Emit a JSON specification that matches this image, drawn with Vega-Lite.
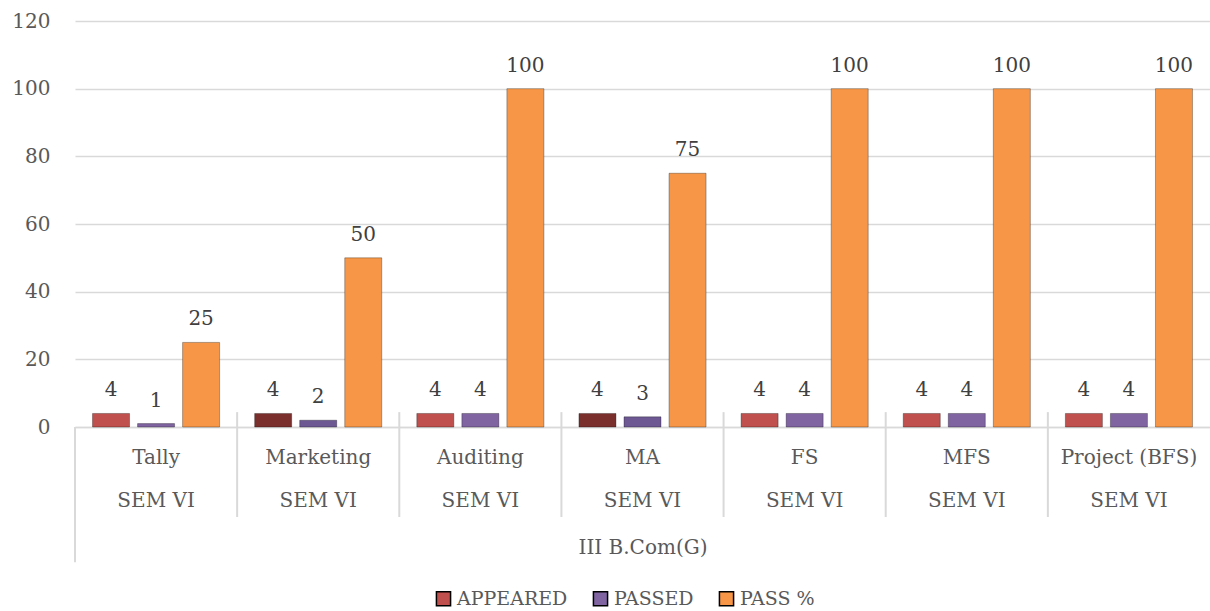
{
  "$schema": "https://vega.github.io/schema/vega-lite/v6.json",
  "width": 1135,
  "height": 406,
  "autosize": "none",
  "padding": {"left": 75, "top": 21, "right": 0, "bottom": 184},
  "background": "white",
  "config": {"font": "DejaVu Serif", "view": {"stroke": null}},
  "data": {
    "values": [
      {"subject": "Tally", "series": "APPEARED", "value": 4},
      {"subject": "Tally", "series": "PASSED", "value": 1},
      {"subject": "Tally", "series": "PASS %", "value": 25},
      {"subject": "Marketing", "series": "APPEARED", "value": 4},
      {"subject": "Marketing", "series": "PASSED", "value": 2},
      {"subject": "Marketing", "series": "PASS %", "value": 50},
      {"subject": "Auditing", "series": "APPEARED", "value": 4},
      {"subject": "Auditing", "series": "PASSED", "value": 4},
      {"subject": "Auditing", "series": "PASS %", "value": 100},
      {"subject": "MA", "series": "APPEARED", "value": 4},
      {"subject": "MA", "series": "PASSED", "value": 3},
      {"subject": "MA", "series": "PASS %", "value": 75},
      {"subject": "FS", "series": "APPEARED", "value": 4},
      {"subject": "FS", "series": "PASSED", "value": 4},
      {"subject": "FS", "series": "PASS %", "value": 100},
      {"subject": "MFS", "series": "APPEARED", "value": 4},
      {"subject": "MFS", "series": "PASSED", "value": 4},
      {"subject": "MFS", "series": "PASS %", "value": 100},
      {"subject": "Project (BFS)", "series": "APPEARED", "value": 4},
      {"subject": "Project (BFS)", "series": "PASSED", "value": 4},
      {"subject": "Project (BFS)", "series": "PASS %", "value": 100}
    ]
  },
  "layer": [
    {
      "mark": {"type": "bar", "stroke": "black", "strokeOpacity": 0.3, "strokeWidth": 1},
      "encoding": {
        "x": {
          "field": "subject", "type": "nominal",
          "sort": ["Tally", "Marketing", "Auditing", "MA", "FS", "MFS", "Project (BFS)"],
          "scale": {"paddingInner": 0, "paddingOuter": 0},
          "axis": {
            "title": "III B.Com(G)", "titleFontSize": 20, "titleFontWeight": "normal", "titleColor": "#595959", "titlePadding": 27,
            "labelAngle": 0, "labelFontSize": 20, "labelColor": "#595959", "labelPadding": 20,
            "labelExpr": "[datum.label, 'SEM VI']", "labelLineHeight": 43,
            "ticks": false, "domainColor": "#d9d9d9", "domainWidth": 1.5
          }
        },
        "xOffset": {
          "field": "series", "type": "nominal", "sort": ["APPEARED", "PASSED", "PASS %"],
          "scale": {"paddingInner": 0.178, "paddingOuter": 0.389}
        },
        "y": {
          "field": "value", "type": "quantitative",
          "scale": {"domain": [0, 120]},
          "axis": {
            "title": null, "values": [0, 20, 40, 60, 80, 100, 120],
            "grid": true, "gridColor": "#d9d9d9", "gridWidth": 1.5,
            "domain": false, "ticks": false,
            "labelFontSize": 20, "labelColor": "#595959", "labelPadding": 25
          }
        },
        "color": {
          "condition": [
            {"test": "datum.series === 'APPEARED' && (datum.subject === 'Marketing' || datum.subject === 'MA')", "value": "#7B2F2D"},
            {"test": "datum.series === 'PASSED' && (datum.subject === 'Marketing' || datum.subject === 'MA')", "value": "#6E5894"}
          ],
          "field": "series", "type": "nominal",
          "scale": {"domain": ["APPEARED", "PASSED", "PASS %"], "range": ["#C0504D", "#8064A2", "#F79646"]},
          "legend": {
            "title": null, "orient": "none", "legendX": 359, "legendY": 568,
            "direction": "horizontal", "symbolType": "square", "symbolSize": 200,
            "labelFontSize": 19, "labelColor": "#595959", "columnPadding": 22, "labelOffset": 4
          }
        }
      }
    },
    {
      "mark": {"type": "text", "fontSize": 20, "color": "#404040", "baseline": "alphabetic", "dy": -17},
      "encoding": {
        "x": {"field": "subject", "type": "nominal", "sort": ["Tally", "Marketing", "Auditing", "MA", "FS", "MFS", "Project (BFS)"]},
        "xOffset": {"field": "series", "type": "nominal", "sort": ["APPEARED", "PASSED", "PASS %"]},
        "y": {"field": "value", "type": "quantitative"},
        "text": {"field": "value", "type": "quantitative"}
      }
    },
    {
      "transform": [{"filter": "datum.series === 'APPEARED' && datum.subject !== 'Tally'"}],
      "mark": {"type": "rule", "color": "#d9d9d9", "strokeWidth": 2},
      "encoding": {
        "x": {"field": "subject", "type": "nominal", "sort": ["Tally", "Marketing", "Auditing", "MA", "FS", "MFS", "Project (BFS)"], "bandPosition": 0},
        "y": {"datum": 4.4},
        "y2": {"datum": -26.6}
      }
    },
    {
      "transform": [{"filter": "datum.series === 'APPEARED' && datum.subject === 'Tally'"}],
      "mark": {"type": "rule", "color": "#d9d9d9", "strokeWidth": 2},
      "encoding": {
        "x": {"field": "subject", "type": "nominal", "sort": ["Tally", "Marketing", "Auditing", "MA", "FS", "MFS", "Project (BFS)"], "bandPosition": 0},
        "y": {"datum": 0},
        "y2": {"datum": -40}
      }
    }
  ]
}
